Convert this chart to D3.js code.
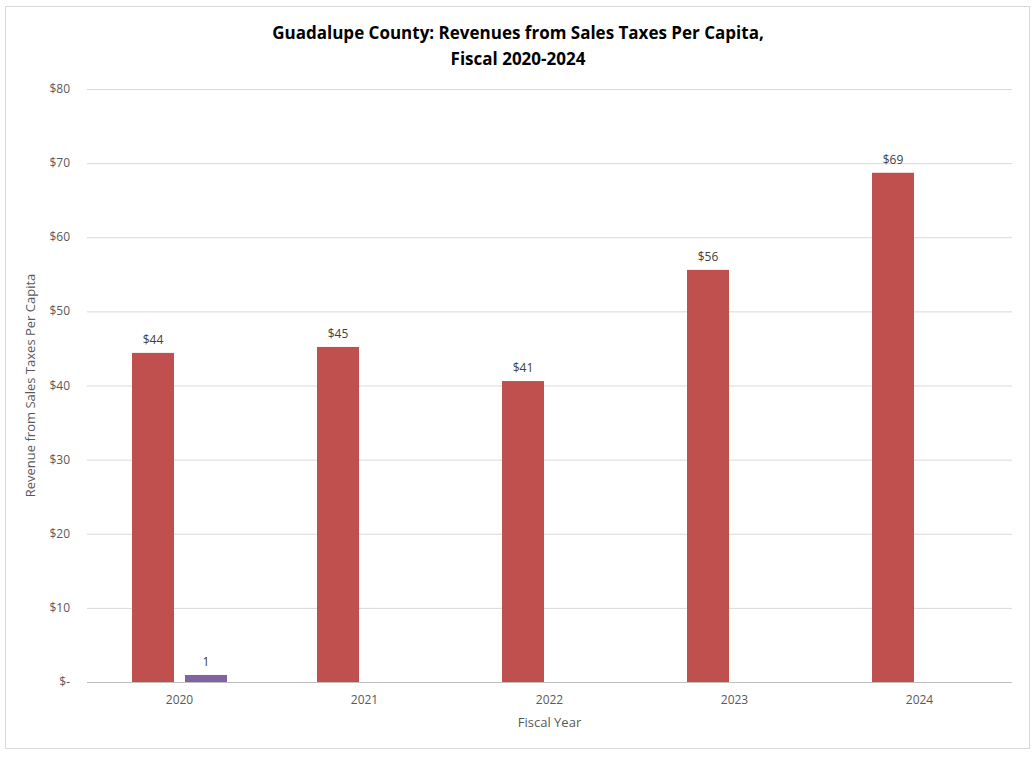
<!DOCTYPE html>
<html><head><meta charset="utf-8">
<script src="https://cdn.jsdelivr.net/npm/d3@7"></script>
<style>body{margin:0;background:#fff;font-family:"Open Sans",sans-serif}</style>
</head><body><svg id="c" width="1036" height="758"></svg>
<script>
const years = ["2020","2021","2022","2023","2024"];
const salesTax = [44.4, 45.2, 40.6, 55.6, 68.7];
const salesTaxLabels = ["$44","$45","$41","$56","$69"];
const otherSeries = [0.95, null, null, null, null];
const otherLabels = ["1", "", "", "", ""];
const yTicks = [0,10,20,30,40,50,60,70,80];

const svg = d3.select("#c");
svg.append("rect").attr("x",5.5).attr("y",6.5).attr("width",1024).attr("height",742)
  .attr("fill","#fff").attr("stroke","#d9d9d9");
const L=87,R=1012,T=89,B=682;
const x = d3.scaleBand().domain(years).range([L,R]);
const y = d3.scaleLinear().domain([0,80]).range([B,T]);
const bw = 42, gap = 11;

svg.append("g").selectAll("line").data(yTicks).join("line")
  .attr("x1",L).attr("x2",R).attr("y1",d=>y(d)+0.5).attr("y2",d=>y(d)+0.5)
  .attr("stroke",(d)=>d===0?"#bfbfbf":"#d9d9d9");
svg.append("g").selectAll("text").data(yTicks).join("text")
  .attr("x",70).attr("y",d=>y(d)+4).attr("text-anchor","end")
  .attr("font-size",12).attr("fill","#595959")
  .text(d=>d===0?"$-":"$"+d);

const cx = d=>x(d)+x.bandwidth()/2;
svg.append("g").selectAll("rect").data(years).join("rect")
  .attr("x",d=>cx(d)-gap/2-bw).attr("width",bw)
  .attr("y",(d,i)=>y(salesTax[i])).attr("height",(d,i)=>B-y(salesTax[i]))
  .attr("fill","#c0504d");
svg.append("g").selectAll("text").data(years).join("text")
  .attr("x",d=>cx(d)-gap/2-bw/2).attr("y",(d,i)=>y(salesTax[i])-9)
  .attr("text-anchor","middle").attr("font-size",12).attr("fill","#404040")
  .text((d,i)=>salesTaxLabels[i]);
const od = years.map((d,i)=>({d,v:otherSeries[i],l:otherLabels[i]})).filter(o=>o.v!=null);
svg.append("g").selectAll("rect").data(od).join("rect")
  .attr("x",o=>cx(o.d)+gap/2).attr("width",bw)
  .attr("y",o=>y(o.v)).attr("height",o=>B-y(o.v)).attr("fill","#8064a2");
svg.append("g").selectAll("text").data(od).join("text")
  .attr("x",o=>cx(o.d)+gap/2+bw/2).attr("y",o=>y(o.v)-9)
  .attr("text-anchor","middle").attr("font-size",12).attr("fill","#404040").text(o=>o.l);

svg.append("g").selectAll("text").data(years).join("text")
  .attr("x",cx).attr("y",B+22).attr("text-anchor","middle")
  .attr("font-size",12).attr("fill","#595959").text(d=>d);

svg.append("text").attr("x",(L+R)/2).attr("y",727).attr("text-anchor","middle")
  .attr("font-size",13).attr("fill","#595959").text("Fiscal Year");
svg.append("text").attr("transform",`translate(35,${(T+B)/2}) rotate(-90)`)
  .attr("text-anchor","middle").attr("font-size",13).attr("fill","#595959")
  .text("Revenue from Sales Taxes Per Capita");
const t = svg.append("text").attr("text-anchor","middle").attr("font-size",17)
  .attr("font-weight","bold").attr("fill","#000");
t.append("tspan").attr("x",518).attr("y",39).text("Guadalupe County: Revenues from Sales Taxes Per Capita,");
t.append("tspan").attr("x",518).attr("y",65).text("Fiscal 2020-2024");
</script></body></html>
